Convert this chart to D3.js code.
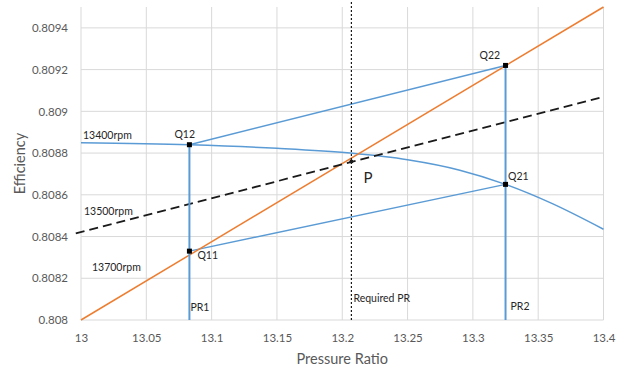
<!DOCTYPE html>
<html>
<head>
<meta charset="utf-8">
<script src="https://cdn.jsdelivr.net/npm/d3@7"></script>
<style>
  body { margin: 0; background: #fff; }
  svg { font-family: Lato, "Open Sans", sans-serif; }
</style>
</head>
<body>
<div id="vis"></div>
<script>
// tick values
const prTicks = [13, 13.05, 13.1, 13.15, 13.2, 13.25, 13.3, 13.35, 13.4];
const effTicks = [0.808, 0.8082, 0.8084, 0.8086, 0.8088, 0.809, 0.8092, 0.8094];

// 13400rpm curve
const curvePR = [13, 13.083, 13.15, 13.206, 13.25, 13.29, 13.325, 13.36, 13.4];
const curveEff = [0.80885, 0.80884, 0.808823, 0.8088, 0.808768, 0.808718, 0.80865, 0.80856, 0.808435];

// 13700rpm (orange) and 13500rpm (dashed) straight lines
const orangePR = [13, 13.4];
const orangeEff = [0.808, 0.8095];
const dashedPR = [12.996, 13.4];
const dashedEff = [0.808415, 0.80907];

// operating points
const pointNames = ["Q11", "Q12", "Q21", "Q22"];
const pointPR = [13.083, 13.083, 13.325, 13.325];
const pointEff = [0.80833, 0.80884, 0.80865, 0.80922];

// required pressure ratio and interpolated point P
const requiredPR = 13.207;
const requiredTop = 0.80953;
const pEff = 0.80876;

const FRAME_WIDTH = 632;
const FRAME_HEIGHT = 369;
const MARGINS = {left: 81, right: 28.5, top: 7, bottom: 49};

const BLUE = "#5b9bd5";
const ORANGE = "#ed7d31";
const GRAY_TEXT = "#595959";

const svg = d3.select("#vis")
  .append("svg")
  .attr("width", FRAME_WIDTH)
  .attr("height", FRAME_HEIGHT);

const X_SCALE = d3.scaleLinear()
  .domain([13, 13.4])
  .range([MARGINS.left, FRAME_WIDTH - MARGINS.right]);

const Y_SCALE = d3.scaleLinear()
  .domain([0.808, 0.8095])
  .range([FRAME_HEIGHT - MARGINS.bottom, MARGINS.top]);

// gridlines
svg.append("g")
  .selectAll("line")
  .data(prTicks)
  .enter()
  .append("line")
    .attr("x1", d => X_SCALE(d))
    .attr("x2", d => X_SCALE(d))
    .attr("y1", Y_SCALE(0.808))
    .attr("y2", Y_SCALE(0.8095))
    .attr("stroke", "#d9d9d9")
    .attr("stroke-width", 1);

svg.append("g")
  .selectAll("line")
  .data(effTicks)
  .enter()
  .append("line")
    .attr("x1", X_SCALE(13))
    .attr("x2", X_SCALE(13.4))
    .attr("y1", d => Y_SCALE(d))
    .attr("y2", d => Y_SCALE(d))
    .attr("stroke", "#d9d9d9")
    .attr("stroke-width", 1);

// axes
const xAxis = svg.append("g")
  .attr("transform", "translate(0," + Y_SCALE(0.808) + ")")
  .call(d3.axisBottom(X_SCALE).tickValues(prTicks).tickSize(0).tickPadding(13.5).tickFormat(d => String(d)));

const yAxis = svg.append("g")
  .attr("transform", "translate(" + X_SCALE(13) + ",0)")
  .call(d3.axisLeft(Y_SCALE).tickValues(effTicks).tickSize(0).tickPadding(13).tickFormat(d => String(d)));

[xAxis, yAxis].forEach(a => {
  a.select(".domain").remove();
  a.selectAll("text")
    .attr("font-family", "Lato, sans-serif")
    .attr("font-size", "11.5px")
    .attr("fill", GRAY_TEXT);
});

// axis titles
svg.append("text")
  .attr("x", X_SCALE(13.2))
  .attr("y", 364)
  .attr("text-anchor", "middle")
  .attr("font-size", "14.5px")
  .attr("fill", GRAY_TEXT)
  .text("Pressure Ratio");

svg.append("text")
  .attr("transform", "translate(25," + Y_SCALE(0.80875) + ") rotate(-90)")
  .attr("text-anchor", "middle")
  .attr("font-size", "14.5px")
  .attr("fill", GRAY_TEXT)
  .text("Efficiency");

const line = d3.line()
  .x(d => X_SCALE(d[0]))
  .y(d => Y_SCALE(d[1]));

// blue curve
svg.append("path")
  .datum(d3.zip(curvePR, curveEff))
  .attr("d", line.curve(d3.curveMonotoneX))
  .attr("fill", "none")
  .attr("stroke", BLUE)
  .attr("stroke-width", 1.5);

line.curve(d3.curveLinear);

// Q12-Q22 and Q11-Q21 connecting lines
[[1, 3], [0, 2]].forEach(pair => {
  svg.append("path")
    .datum(pair.map(i => [pointPR[i], pointEff[i]]))
    .attr("d", line)
    .attr("fill", "none")
    .attr("stroke", BLUE)
    .attr("stroke-width", 1.5);
});

// orange 13700rpm line
svg.append("path")
  .datum(d3.zip(orangePR, orangeEff))
  .attr("d", line)
  .attr("fill", "none")
  .attr("stroke", ORANGE)
  .attr("stroke-width", 1.5);

// dashed 13500rpm line
svg.append("path")
  .datum(d3.zip(dashedPR, dashedEff))
  .attr("d", line)
  .attr("fill", "none")
  .attr("stroke", "#1a1a1a")
  .attr("stroke-width", 1.8)
  .attr("stroke-dasharray", "9,5");

// PR1 / PR2 verticals
[1, 3].forEach(i => {
  svg.append("line")
    .attr("x1", X_SCALE(pointPR[i]))
    .attr("x2", X_SCALE(pointPR[i]))
    .attr("y1", Y_SCALE(0.808))
    .attr("y2", Y_SCALE(pointEff[i]))
    .attr("stroke", BLUE)
    .attr("stroke-width", 2);
});

// required PR dotted line
svg.append("line")
  .attr("x1", X_SCALE(requiredPR))
  .attr("x2", X_SCALE(requiredPR))
  .attr("y1", Y_SCALE(0.808))
  .attr("y2", Y_SCALE(requiredTop))
  .attr("stroke", "#1a1a1a")
  .attr("stroke-width", 1.2)
  .attr("stroke-dasharray", "2,2");

// point P marker
svg.append("circle")
  .attr("cx", X_SCALE(requiredPR))
  .attr("cy", Y_SCALE(pEff))
  .attr("r", 2)
  .attr("fill", "#1a1a1a");

// Q markers
svg.selectAll("rect.q")
  .data(d3.range(pointNames.length))
  .enter()
  .append("rect")
    .attr("class", "q")
    .attr("x", i => X_SCALE(pointPR[i]) - 2.5)
    .attr("y", i => Y_SCALE(pointEff[i]) - 2.5)
    .attr("width", 5)
    .attr("height", 5)
    .attr("fill", "#000");

// labels
const labelOffsets = {Q11: [8, 7.5], Q12: [-15, -7], Q21: [2.5, -4], Q22: [-26, -6]};
svg.selectAll("text.q")
  .data(d3.range(pointNames.length))
  .enter()
  .append("text")
    .attr("class", "q")
    .attr("x", i => X_SCALE(pointPR[i]) + labelOffsets[pointNames[i]][0])
    .attr("y", i => Y_SCALE(pointEff[i]) + labelOffsets[pointNames[i]][1])
    .attr("font-size", "10.5px")
    .attr("fill", "#262626")
    .text(i => pointNames[i]);

function note(txt, px, py, size) {
  svg.append("text")
    .attr("x", px)
    .attr("y", py)
    .attr("font-size", size || "10.5px")
    .attr("fill", "#262626")
    .text(txt);
}

note("13400rpm", X_SCALE(13) + 2, Y_SCALE(0.808867));
note("13500rpm", X_SCALE(13) + 3, Y_SCALE(0.808503));
note("13700rpm", X_SCALE(13) + 11, Y_SCALE(0.808236));
note("PR1", X_SCALE(pointPR[1]) + 1, Y_SCALE(0.808) - 9.5);
note("PR2", X_SCALE(pointPR[3]) + 5, Y_SCALE(0.808) - 10.5);
note("Required PR", X_SCALE(requiredPR) + 2, Y_SCALE(0.808) - 18);
note("P", X_SCALE(requiredPR) + 12, Y_SCALE(pEff) + 22, "15px");
</script>
</body>
</html>
